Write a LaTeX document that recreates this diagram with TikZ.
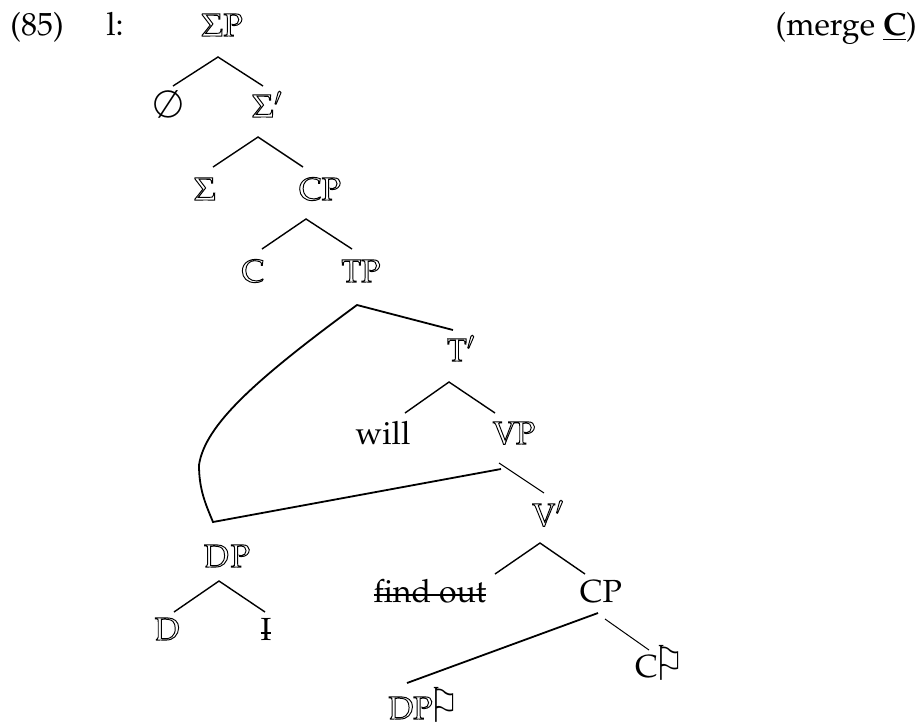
\documentclass[tikz,border=0pt]{standalone}
\usepackage{graphicx}
\usepackage[T1]{fontenc}
\usepackage{mathpazo}
\usepackage[no-math]{fontspec}
\newfontfamily\dejavu{DejaVu Sans}
\newcommand\pal{\fontencoding{T1}\fontfamily{ppl}\selectfont}
\newcommand\outl[1]{\special{pdf:literal direct 1 Tr 0.95 w}#1\special{pdf:literal direct 0 Tr}}
\newcommand\flagsym{\kern-4pt\raisebox{-3pt}{\scalebox{0.72}[1]{\fontsize{48}{50}\dejavu\char"2690}}}
\newcommand\strk[1]{\setbox0\hbox{#1}\rlap{\rule[6.5pt]{\wd0}{1.8pt}}\box0}
\begin{document}
\begin{tikzpicture}[x=1pt,y=-1pt,
  lab/.style={inner sep=0pt, anchor=base, font=\fontsize{32}{38}\pal},
  br/.style={line width=1.4pt},
  thk/.style={line width=1.8pt, line join=miter},
  thn/.style={line width=1pt}]
\useasboundingbox (0,0) rectangle (921,724);
% top row
\node[lab] (ex) at (37,35) {(85)};
\node[lab] (l) at (115,35) {l:};
\node[lab] (SP) at (222,36) {\outl{$\Sigma$P}};
\node[lab,anchor=base east] (mg) at (917,35) {(merge \underline{\textbf{C}})};
% labels
\node[lab] (Nul) at (168,117) {\fontsize{38}{40}\selectfont$\emptyset$};
\node[lab] (Sb) at (267,117) {\outl{$\Sigma'$}};
\node[lab] (Sg) at (205,200) {\outl{$\Sigma$}};
\node[lab] (CPa) at (320,200) {\outl{CP}};
\node[lab] (Ca) at (253,282) {\outl{C}};
\node[lab] (TP) at (361,282) {\outl{TP}};
\node[lab] (Tb) at (461,361) {\outl{T$'$}};
\node[lab] (will) at (383,444) {will};
\node[lab] (VP) at (514,444) {\outl{VP}};
\node[lab] (Vb) at (548,526) {\outl{V$'$}};
\node[lab] (DP) at (227,567) {\outl{D\kern2pt P}};
\node[lab] (fo) at (430,602) {\strk{find out}};
\node[lab] (CPb) at (601,602) {CP};
\node[lab] (D) at (167,640) {\outl{D}};
\node[lab] (I) at (266,640) {\strk{I}};
\node[lab] (Cf) at (660,677) {C\flagsym};
\node[lab] (DPf) at (424,719) {\outl{DP}\flagsym};
% junction points
\coordinate (SP-a) at (218,57);
\coordinate (Nul-t) at (173,86);
\coordinate (Sb-t) at (263,86);
\coordinate (Sb-a) at (258,137);
\coordinate (Sg-t) at (213,167);
\coordinate (CPa-t) at (303,167);
\coordinate (CPa-a) at (306,219);
\coordinate (Ca-t) at (262,249);
\coordinate (TP-t) at (352,249);
\coordinate (TP-a) at (357,305);
\coordinate (Tb-t) at (453,330);
\coordinate (bend) at (199,465);
\coordinate (DP-t) at (213,522);
\coordinate (Tb-a) at (449,382);
\coordinate (will-t) at (405,413);
\coordinate (VP-t) at (495,413);
\coordinate (VP-a) at (499,463);
\coordinate (VP-l) at (501,469);
\coordinate (Vb-t) at (544,493);
\coordinate (Vb-a) at (540,543);
\coordinate (fo-t) at (495,574);
\coordinate (CPb-t) at (585,574);
\coordinate (DP-a) at (219,581);
\coordinate (D-t) at (174,612);
\coordinate (I-t) at (265,612);
\coordinate (CPb-l) at (598,613);
\coordinate (DPf-t) at (407,683);
\coordinate (CPb-r) at (605,619);
\coordinate (Cf-t) at (649,650);
% connectors
\draw[br] (Nul-t) -- (SP-a) -- (Sb-t);
\draw[br] (Sg-t) -- (Sb-a) -- (CPa-t);
\draw[br] (Ca-t) -- (CPa-a) -- (TP-t);
\draw[thk] (Tb-t) -- (TP-a) .. controls (255,380) and (205,425) .. (bend)
   .. controls (199,490) and (206,505) .. (DP-t) -- (VP-l);
\draw[br] (will-t) -- (Tb-a) -- (VP-t);
\draw[thn] (VP-a) -- (Vb-t);
\draw[br] (fo-t) -- (Vb-a) -- (CPb-t);
\draw[br] (D-t) -- (DP-a) -- (I-t);
\draw[thk] (CPb-l) -- (DPf-t);
\draw[thn] (CPb-r) -- (Cf-t);
\end{tikzpicture}
\end{document}
